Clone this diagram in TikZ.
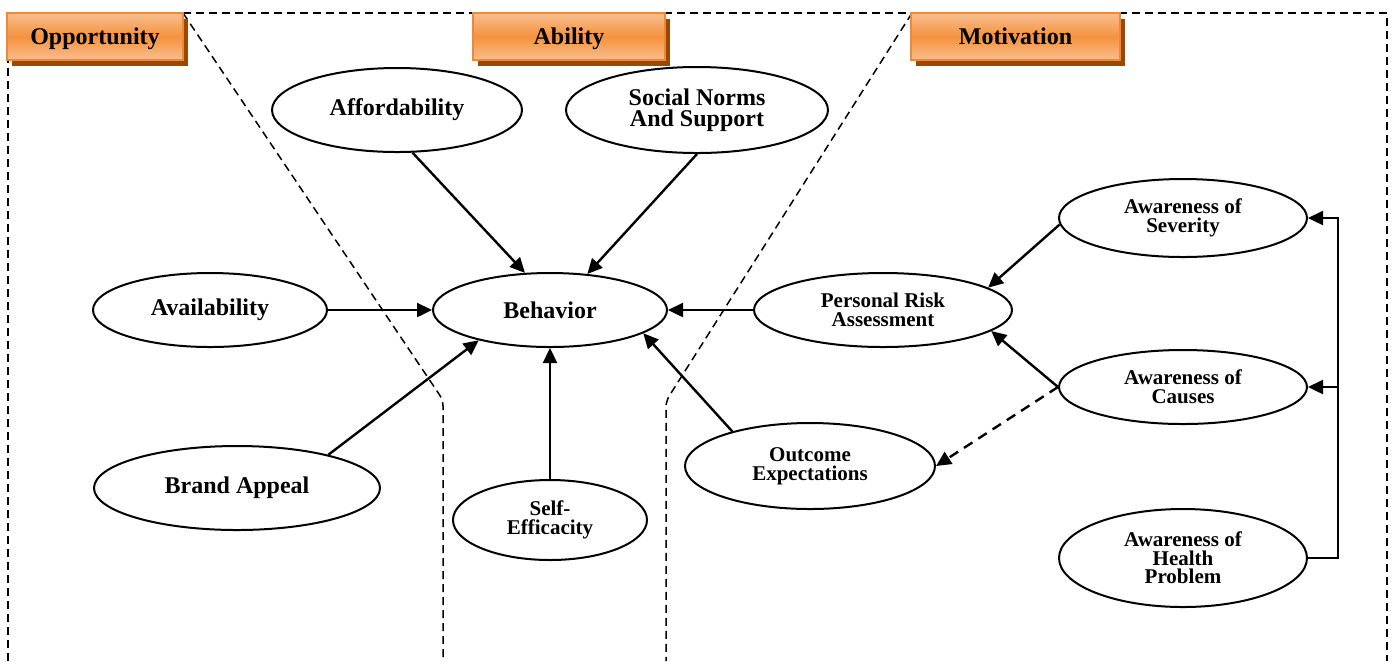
\documentclass[tikz,border=0pt]{standalone}
\usepackage{fontspec}
\setmainfont{Liberation Serif}
\usetikzlibrary{shapes.geometric,arrows.meta,shadows}

\definecolor{hdrorange}{HTML}{F5923E}
\definecolor{hdrlight}{HTML}{F9BE8E}
\definecolor{hdredge}{HTML}{EE8A35}
\definecolor{hdrshadow}{HTML}{984807}

\tikzset{
  blob/.style={draw,ellipse,line width=1pt,inner sep=0pt,align=center,
    font=\bfseries\fontsize{12}{10.5}\selectfont},
  smallblob/.style={blob,font=\bfseries\fontsize{10.5}{9.3}\selectfont},
  header/.style={rectangle,draw=hdredge,line width=0.6pt,top color=hdrlight,
    bottom color=hdrlight,middle color=hdrorange,minimum height=23.5pt,inner sep=0pt,
    text depth=0pt,font=\bfseries\fontsize{12}{14}\selectfont,
    drop shadow={shadow xshift=2.5pt,shadow yshift=-3pt,fill=hdrshadow,opacity=1}},
  arr/.style={line width=1.2pt,-{Triangle[length=7.5pt,width=7pt]}},
  zone/.style={line width=0.75pt,dash pattern=on 4pt off 2.5pt}
}

\begin{document}
\begin{tikzpicture}[x=0.5pt,y=-0.5pt]
\useasboundingbox (0,0) rectangle (1393,661);

%%% ZONES %%%
\draw [zone] (8,661) -- (8,60);
\draw [zone] (183,13) -- (1387,13) -- (1387,661);
\draw [zone,rounded corners=3pt] (183,13) -- (443,400) -- (443,661);
\draw [zone,rounded corners=3pt] (912,13) -- (666,401) -- (666,661);

%%% HEADERS %%%
\node [header,minimum width=88pt] at (95,36.5) (opp) {Opportunity};
\node [header,minimum width=96pt] at (569,36.5) (abl) {Ability};
\node [header,minimum width=104.5pt] at (1015.5,36.5) (mot) {Motivation};

%%% FACTORS %%%
\node [blob,minimum width=125pt,minimum height=42pt] at (397,110) (aff) {Affordability};
\node [blob,minimum width=131pt,minimum height=43pt] at (697,110) (soc) {Social Norms\\And Support};
\node [blob,minimum width=117pt,minimum height=37pt] at (210,310) (avl) {Availability};
\node [blob,minimum width=117pt,minimum height=37pt] at (550,310) (beh) {Behavior};
\node [blob,minimum width=143pt,minimum height=42pt] at (237,488) (brd) {Brand Appeal};
\node [smallblob,minimum width=97pt,minimum height=40pt] at (550,520) (slf) {Self-\\Efficacity};
\node [smallblob,minimum width=125pt,minimum height=43pt] at (810,466) (out) {Outcome\\Expectations};
\node [smallblob,minimum width=129pt,minimum height=37pt] at (883,310) (prk) {Personal Risk\\Assessment};
\node [smallblob,minimum width=124pt,minimum height=39pt] at (1183,218) (sev) {Awareness of\\Severity};
\node [smallblob,minimum width=124pt,minimum height=37pt] at (1183,387) (cau) {Awareness of\\Causes};
\node [smallblob,minimum width=124pt,minimum height=49pt] at (1183,558) (hlt) {Awareness of\\Health\\Problem};
\coordinate (bus) at (1338,558);

%%% LINKS %%%
\draw [arr] (aff.-70) -- (beh.124);
\draw [arr] (soc.-90) -- (beh.44);
\draw [arr] (avl.east) -- (beh.west);
\draw [arr] (brd.20) -- (beh.-157);
\draw [arr] (slf.north) -- (beh.south);
\draw [arr] (out.156) -- (beh.-14);
\draw [arr] (prk.west) -- (beh.east);
\draw [arr] (sev.-177) -- (prk.12);
\draw [arr] (cau.west) -- (prk.-11);
\draw [arr,dash pattern=on 5pt off 3.5pt] (cau.west) -- (out.east);
\draw [arr] (hlt.east) -- (bus) |- (sev.east);
\draw [arr] (bus |- cau.east) -- (cau.east);
\end{tikzpicture}
\end{document}
